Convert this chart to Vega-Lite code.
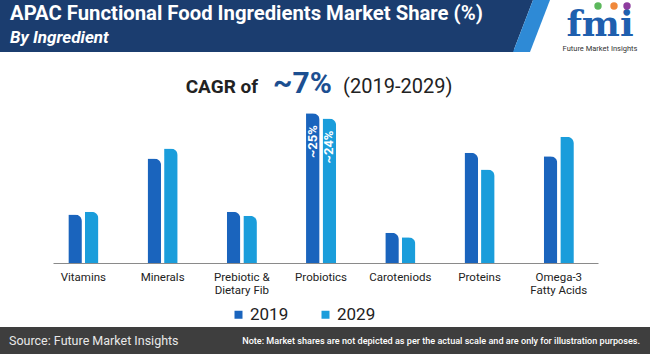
{
  "$schema": "https://vega.github.io/schema/vega-lite/v6.json",
  "background": "white",
  "padding": 0,
  "spacing": 0,
  "config": {"view": {"stroke": null}, "font": "Roboto", "concat": {"spacing": 0}},
  "resolve": {"scale": {"color": "independent"}, "legend": {"color": "independent"}},
  "vconcat": [
    {
      "width": 650,
      "height": 52,
      "title": {
        "text": "APAC Functional Food Ingredients Market Share (%)",
        "subtitle": "By Ingredient",
        "anchor": "start",
        "frame": "group",
        "offset": -46,
        "dx": 10,
        "color": "white",
        "font": "Roboto",
        "fontSize": 20.3,
        "fontWeight": "bold",
        "subtitleColor": "white",
        "subtitleFont": "Roboto",
        "subtitleFontSize": 17,
        "subtitleFontStyle": "italic",
        "subtitleFontWeight": "bold",
        "subtitlePadding": 6
      },
      "data": {"values": [{}]},
      "layer": [
        {"mark": {"type": "rect", "color": "#1b3d6f"}, "encoding": {"x": {"value": 0}, "x2": {"value": 514}, "y": {"value": 0}, "y2": {"value": "height"}}},
        {"mark": {"type": "point", "filled": true, "opacity": 1, "strokeWidth": 0, "color": "#1b3d6f", "size": 2704, "shape": "M -0.75 -1 L 0.0577 -1 L -0.7115 1 L -0.75 1 Z"}, "encoding": {"x": {"value": 531.5}, "y": {"value": 26}}},
        {"mark": {"type": "point", "filled": true, "opacity": 1, "strokeWidth": 0, "color": "#2e8ad6", "size": 2704, "shape": "M 0.0577 -1 L 0.7115 -1 L -0.0577 1 L -0.7115 1 Z"}, "encoding": {"x": {"value": 531.5}, "y": {"value": 26}}},
        {"mark": {"type": "text", "font": "DejaVu Serif", "fontWeight": "bold", "fontSize": 36, "color": "#1f5fae", "align": "center", "baseline": "alphabetic"}, "encoding": {"x": {"value": 600}, "y": {"value": 36}, "text": {"value": "fmi"}}},
        {"mark": {"type": "text", "font": "Roboto", "fontSize": 7.5, "color": "#333333", "align": "center", "baseline": "alphabetic"}, "encoding": {"x": {"value": 600}, "y": {"value": 50.5}, "text": {"value": "Future Market Insights"}}},
        {"mark": {"type": "circle", "size": 55, "opacity": 1, "color": "#5cb85c"}, "encoding": {"x": {"value": 598}, "y": {"value": 6}}},
        {"mark": {"type": "circle", "size": 55, "opacity": 1, "color": "#f0883a"}, "encoding": {"x": {"value": 614}, "y": {"value": 6}}},
        {"mark": {"type": "circle", "size": 55, "opacity": 1, "color": "#8e3c9e"}, "encoding": {"x": {"value": 627}, "y": {"value": 6}}}
      ]
    },
    {
      "width": 650,
      "height": 211,
      "data": {"values": [
        {"ingredient": "Vitamins", "year": "2019", "value": 8.1, "label": ""},
        {"ingredient": "Vitamins", "year": "2029", "value": 8.55, "label": ""},
        {"ingredient": "Minerals", "year": "2019", "value": 17.45, "label": ""},
        {"ingredient": "Minerals", "year": "2029", "value": 19.1, "label": ""},
        {"ingredient": "Prebiotic & Dietary Fib", "year": "2019", "value": 8.55, "label": ""},
        {"ingredient": "Prebiotic & Dietary Fib", "year": "2029", "value": 7.9, "label": ""},
        {"ingredient": "Probiotics", "year": "2019", "value": 25, "label": "~25%"},
        {"ingredient": "Probiotics", "year": "2029", "value": 24.1, "label": "~24%"},
        {"ingredient": "Caroteniods", "year": "2019", "value": 5.05, "label": ""},
        {"ingredient": "Caroteniods", "year": "2029", "value": 4.3, "label": ""},
        {"ingredient": "Proteins", "year": "2019", "value": 18.4, "label": ""},
        {"ingredient": "Proteins", "year": "2029", "value": 15.6, "label": ""},
        {"ingredient": "Omega-3 Fatty Acids", "year": "2019", "value": 17.8, "label": ""},
        {"ingredient": "Omega-3 Fatty Acids", "year": "2029", "value": 21.05, "label": ""}
      ]},
      "layer": [
        {
          "mark": {"type": "bar", "cornerRadiusTopRight": 9},
          "encoding": {
            "x": {"field": "ingredient", "type": "nominal", "sort": null,
              "scale": {"range": [53, 598], "paddingInner": 0.62, "paddingOuter": 0.249, "align": 0.388},
              "axis": {"title": null, "labelAngle": 0, "ticks": false, "domainColor": "#8a8a8a", "domainWidth": 1,
                "labelFont": "Roboto", "labelFontSize": 11.5, "labelColor": "#222222", "labelPadding": 8, "labelLineHeight": 13,
                "labelExpr": "datum.value == 'Prebiotic & Dietary Fib' ? ['Prebiotic &', 'Dietary Fib'] : datum.value == 'Omega-3 Fatty Acids' ? ['Omega-3', 'Fatty Acids'] : datum.value"}},
            "xOffset": {"field": "year", "type": "nominal", "scale": {"paddingInner": 0.18}},
            "y": {"field": "value", "type": "quantitative", "scale": {"domain": [0, 35.2], "nice": false, "zero": true}, "axis": null},
            "color": {"field": "year", "type": "nominal", "scale": {"range": ["#1a64bd", "#1a9ddb"]},
              "legend": {"title": null, "orient": "none", "legendX": 226, "legendY": 250, "padding": 4, "direction": "horizontal", "symbolType": "square", "symbolSize": 64,
                "labelFont": "Roboto", "labelFontSize": 17, "labelColor": "#222222", "labelOffset": 3, "columnPadding": 28}}
          }
        },
        {
          "transform": [{"filter": "datum.label != ''"}],
          "mark": {"type": "text", "angle": 270, "align": "right", "baseline": "middle", "dx": -12, "color": "white", "font": "Roboto", "fontWeight": "bold", "fontSize": 13},
          "encoding": {
            "x": {"field": "ingredient", "type": "nominal", "sort": null},
            "xOffset": {"field": "year", "type": "nominal"},
            "y": {"field": "value", "type": "quantitative", "scale": {"domain": [0, 35.2], "nice": false}},
            "text": {"field": "label"}
          }
        },
        {
          "data": {"values": [{}]},
          "mark": {"type": "text", "align": "right", "baseline": "alphabetic", "dx": -63, "font": "Roboto", "fontWeight": "bold", "fontSize": 19, "color": "#222222"},
          "encoding": {"x": {"datum": "Probiotics"}, "y": {"datum": 28.36, "type": "quantitative", "scale": {"domain": [0, 35.2], "nice": false}}, "text": {"value": "CAGR of"}}
        },
        {
          "data": {"values": [{}]},
          "mark": {"type": "text", "align": "left", "baseline": "alphabetic", "dx": -48, "font": "Roboto", "fontWeight": "bold", "fontSize": 30, "color": "#1c4f91"},
          "encoding": {"x": {"datum": "Probiotics"}, "y": {"datum": 28.36, "type": "quantitative", "scale": {"domain": [0, 35.2], "nice": false}}, "text": {"value": "~7%"}}
        },
        {
          "data": {"values": [{}]},
          "mark": {"type": "text", "align": "left", "baseline": "alphabetic", "dx": 22, "font": "Roboto", "fontSize": 20, "color": "#222222"},
          "encoding": {"x": {"datum": "Probiotics"}, "y": {"datum": 28.36, "type": "quantitative", "scale": {"domain": [0, 35.2], "nice": false}}, "text": {"value": "(2019-2029)"}}
        }
      ]
    },
    {
      "width": 650,
      "height": 27,
      "data": {"values": [{}]},
      "layer": [
        {"mark": {"type": "rect", "color": "#3e3e3e"}, "encoding": {"x": {"value": 0}, "x2": {"value": "width"}, "y": {"value": 0}, "y2": {"value": "height"}}},
        {"mark": {"type": "text", "align": "left", "baseline": "middle", "font": "Roboto", "fontSize": 12.5, "color": "#e8e8e8"}, "encoding": {"x": {"value": 9}, "y": {"value": 14}, "text": {"value": "Source: Future Market Insights"}}},
        {"mark": {"type": "text", "align": "right", "baseline": "middle", "font": "Roboto", "fontSize": 9.1, "fontWeight": 500, "color": "#ffffff"}, "encoding": {"x": {"value": 640}, "y": {"value": 14}, "text": {"value": "Note: Market shares are not depicted as per the actual scale and are only for illustration purposes."}}}
      ]
    }
  ]
}
